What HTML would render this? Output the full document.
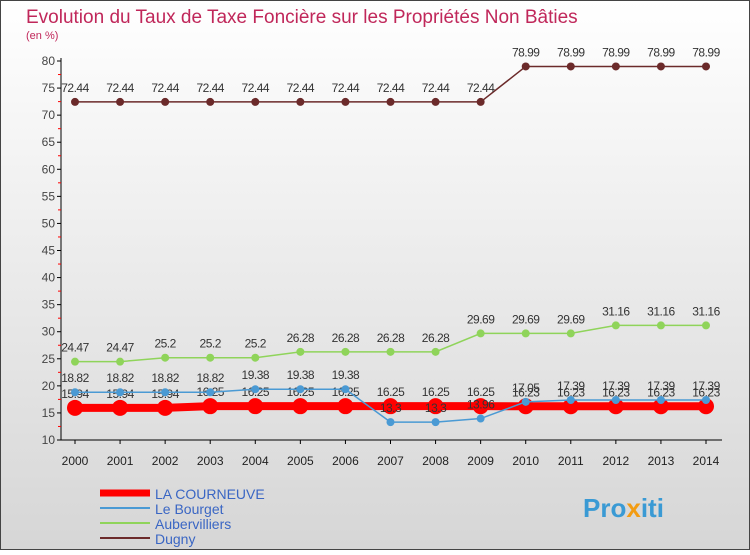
<!DOCTYPE html>
<html><head><meta charset="utf-8"><style>
body{margin:0}
svg text{font-family:"Liberation Sans",sans-serif}
</style></head><body>
<svg id="c" width="750" height="550" xmlns="http://www.w3.org/2000/svg">
<defs><linearGradient id="bg" x1="0" y1="0" x2="0" y2="1"><stop offset="0" stop-color="#ffffff"/><stop offset="1" stop-color="#d6d6d6"/></linearGradient></defs>
<rect x="0.5" y="0.5" width="749" height="549" fill="url(#bg)" stroke="#444"/>
<text x="26" y="23" font-size="19" fill="#c0275a">Evolution du Taux de Taxe Foncière sur les Propriétés Non Bâties</text>
<text x="26" y="39" font-size="11" fill="#c0275a">(en %)</text>
<g id="axes"></g><g id="series"></g>
<g>
<line x1="100" y1="493" x2="150" y2="493" stroke="#f00" stroke-width="7"/>
<text x="155" y="499" font-size="14" fill="#3a66c4">LA COURNEUVE</text>
<line x1="100" y1="508" x2="150" y2="508" stroke="#4a9ad4" stroke-width="2"/>
<text x="155" y="514" font-size="14" fill="#3a66c4">Le Bourget</text>
<line x1="100" y1="523" x2="150" y2="523" stroke="#8fd45a" stroke-width="2"/>
<text x="155" y="529" font-size="14" fill="#3a66c4">Aubervilliers</text>
<line x1="100" y1="538" x2="150" y2="538" stroke="#6b2a2a" stroke-width="2"/>
<text x="155" y="544" font-size="14" fill="#3a66c4">Dugny</text>
</g>
<text x="583" y="517" font-size="26" font-weight="bold" fill="#3a9ad4">Pro<tspan fill="#f39c12">x</tspan>iti</text>
</svg>
<script>
const years=["2000","2001","2002","2003","2004","2005","2006","2007","2008","2009","2010","2011","2012","2013","2014"];
const yTicks=[10,15,20,25,30,35,40,45,50,55,60,65,70,75,80];
const courneuve=[15.94,15.94,15.94,16.25,16.25,16.25,16.25,16.25,16.25,16.25,16.23,16.23,16.23,16.23,16.23];
const bourget=[18.82,18.82,18.82,18.82,19.38,19.38,19.38,13.3,13.3,13.96,17.05,17.39,17.39,17.39,17.39];
const auber=[24.47,24.47,25.2,25.2,25.2,26.28,26.28,26.28,26.28,29.69,29.69,29.69,31.16,31.16,31.16];
const dugny=[72.44,72.44,72.44,72.44,72.44,72.44,72.44,72.44,72.44,72.44,78.99,78.99,78.99,78.99,78.99];
const NS="http://www.w3.org/2000/svg";
const X=i=>75+i*(706-75)/(years.length-1);
const Y=v=>440-(v-10)*(440-61)/70;
function mk(t,a,p){const e=document.createElementNS(NS,t);for(const k in a)e.setAttribute(k,a[k]);p.appendChild(e);return e;}
const ax=document.getElementById('axes');
const yl=mk('line',{x1:61,y1:58,x2:61,y2:440,stroke:'#000'},ax);


const xl=mk('line',{x1:61,y1:440,x2:722,y2:440,stroke:'#000'},ax);


yTicks.forEach(v=>{
 mk('line',{x1:57,y1:Y(v),x2:61,y2:Y(v),stroke:'#000'},ax);
 if(v<80)mk('line',{x1:58,y1:Y(v+2.5),x2:61,y2:Y(v+2.5),stroke:'#f00'},ax);
 const t=mk('text',{x:55,y:Y(v)+4,'font-size':12,fill:'#444','text-anchor':'end'},ax);t.textContent=v;
 
 
});
years.forEach((y,i)=>{
 mk('line',{x1:X(i),y1:440,x2:X(i),y2:444,stroke:'#000'},ax);
 const t=mk('text',{x:X(i),y:465,'font-size':12,fill:'#222','text-anchor':'middle'},ax);t.textContent=y;
 
 
});
const sg=document.getElementById('series');
function series(d,col,w,r,name){
 const g=mk('g',{},sg);
 
 
 const pl=mk('polyline',{points:d.map((v,i)=>X(i)+','+Y(v)).join(' '),fill:'none',stroke:col,'stroke-width':w},g);
 
 
 d.forEach((v,i)=>{
  const c=mk('circle',{cx:X(i),cy:Y(v),r:r,fill:col},g);
  
  
  const t=mk('text',{x:X(i),y:Y(v)-10,'font-size':12,fill:'#333','text-anchor':'middle','letter-spacing':'-0.5'},g);t.textContent=v;
  
  
 });
}
series(dugny,'#6b2a2a',1.5,4,'dugny');
series(auber,'#8fd45a',1.5,4,'aubervilliers');
series(courneuve,'#f00',8,8,'la-courneuve');
series(bourget,'#4a9ad4',1.5,4,'le-bourget');
</script>
</body></html>
